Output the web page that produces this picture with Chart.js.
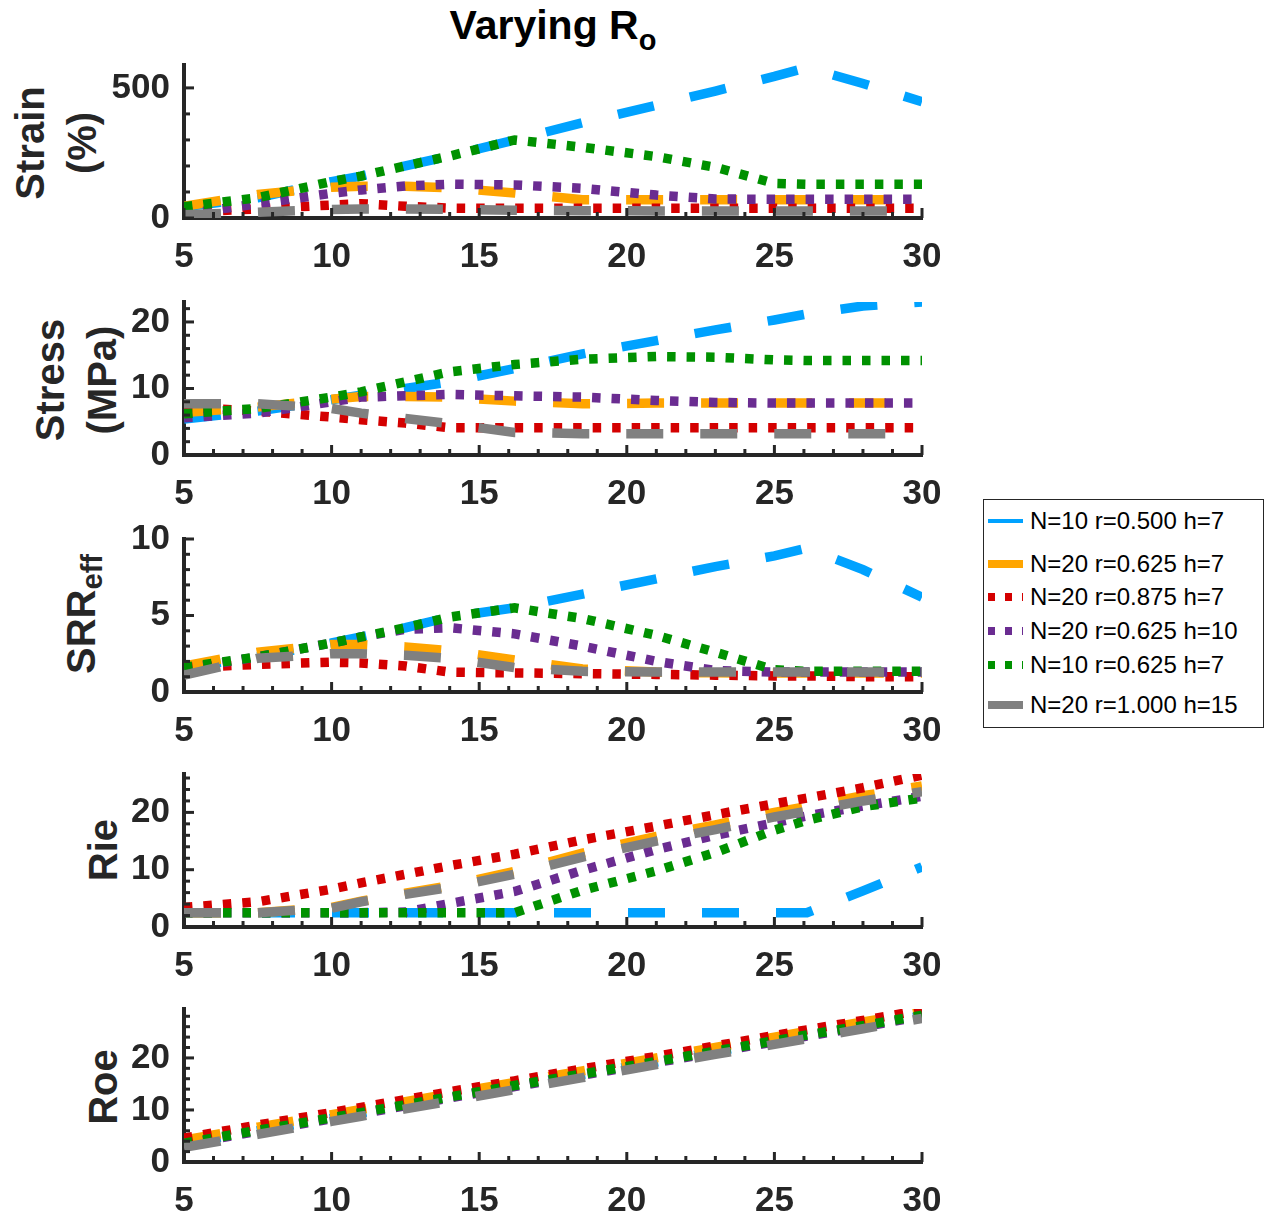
<!DOCTYPE html>
<html>
<head>
<meta charset="utf-8">
<script src="https://cdn.jsdelivr.net/npm/chart.js@4.4.1/dist/chart.umd.min.js"></script>
<style>
  body { margin: 0; background: #fff; width: 1267px; height: 1220px; position: relative; overflow: hidden;
         font-family: "Liberation Sans", Arial, sans-serif; color: #262626; }
  canvas { position: absolute; left: 0; }
  .ylab { position: absolute; transform: translate(-50%, -50%) rotate(-90deg); font-weight: bold;
          font-size: 40px; line-height: 52px; text-align: center; white-space: nowrap; }
  .ylab sub { font-size: 29px; vertical-align: -7px; }
  #title { position: absolute; left: 553px; top: 3px; transform: translateX(-50%); font-weight: bold;
           font-size: 41px; line-height: 44px; white-space: nowrap; color: #000; }
  #title sub { font-size: 29px; vertical-align: -11px; }
  #legend { position: absolute; left: 983px; top: 499px; width: 281px; height: 229px;
            border: 1px solid #262626; box-sizing: border-box; background: #fff; }
  .lrow { position: absolute; left: 0; height: 30px; }
  .lrow svg { position: absolute; left: 4px; top: 0; }
  .lrow span { position: absolute; left: 46px; top: 0; line-height: 30px; font-size: 24px; color: #000; white-space: nowrap; }
</style>
</head>
<body>
<div id="title">Varying R<sub>o</sub></div>
<div class="ylab" style="left:56px; top:143px;">Strain<br>(%)</div>
<div class="ylab" style="left:76px; top:380px;">Stress<br>(MPa)</div>
<div class="ylab" style="left:86px; top:614px;">SRR<sub>eff</sub></div>
<div class="ylab" style="left:103px; top:850px;">Rie</div>
<div class="ylab" style="left:103px; top:1087px;">Roe</div>
<div id="legend"></div>

<script>
// outer radius Ro (x axis)
const ro = [5, 7.5, 10, 11, 12.5, 14, 16.2, 18.5, 21, 23, 25, 26.1, 28, 30];

const seriesNames = ['N=10 r=0.500 h=7', 'N=20 r=0.625 h=7', 'N=20 r=0.875 h=7',
                     'N=20 r=0.625 h=10', 'N=10 r=0.625 h=7', 'N=20 r=1.000 h=15'];
const seriesColors = ['#00A2FF', '#FFA500', '#D40000', '#6A2C91', '#009100', '#808080'];

// one row per series, same order as seriesNames
const strain = [
  [43, 78, 140, 161, 200, 238, 300, 366, 433, 488, 544, 578, 517, 447],
  [45, 90, 118, 122, 122, 116, 96, 70, 70, 70, 70, 70, 70, 70],
  [22, 35, 50, 55, 45, 38, 37, 37, 37, 37, 37, 37, 37, 37],
  [15, 55, 95, 108, 123, 130, 127, 114, 88, 73, 72, 72, 72, 72],
  [43, 78, 140, 161, 200, 238, 300, 272, 236, 195, 133, 130, 130, 130],
  [12, 22, 33, 35, 35, 33, 30, 28, 27, 27, 27, 27, 27, 27]
];
const stress = [
  [5.4, 6.6, 8.3, 9.0, 10.0, 11.0, 13.0, 15.2, 17.2, 18.8, 20.3, 21.2, 22.4, 23.0],
  [6.4, 7.2, 8.4, 8.8, 8.8, 8.7, 8.1, 7.7, 7.8, 7.8, 7.8, 7.8, 7.8, 7.8],
  [7.2, 6.6, 5.7, 5.3, 4.8, 4.1, 4.1, 4.1, 4.1, 4.1, 4.1, 4.1, 4.1, 4.1],
  [5.6, 6.3, 8.0, 8.7, 8.9, 9.1, 8.9, 8.7, 8.2, 7.9, 7.8, 7.8, 7.8, 7.8],
  [6.2, 7.0, 8.7, 9.5, 11.0, 12.5, 13.6, 14.4, 14.8, 14.7, 14.3, 14.2, 14.2, 14.2],
  [7.7, 7.7, 7.0, 6.3, 5.5, 4.7, 3.4, 3.2, 3.2, 3.2, 3.2, 3.2, 3.2, 3.2]
];
const srrEff = [
  [1.6, 2.3, 3.2, 3.6, 4.2, 4.9, 5.5, 6.4, 7.4, 8.2, 8.9, 9.4, 8.0, 6.2],
  [1.7, 2.6, 3.1, 3.1, 2.95, 2.7, 2.1, 1.5, 1.3, 1.25, 1.25, 1.25, 1.25, 1.25],
  [1.6, 1.8, 1.95, 1.9, 1.7, 1.3, 1.25, 1.2, 1.15, 1.1, 1.05, 1.05, 1.0, 1.0],
  [1.5, 2.3, 3.2, 3.6, 4.1, 4.2, 3.8, 3.0, 2.0, 1.4, 1.3, 1.3, 1.3, 1.3],
  [1.6, 2.3, 3.2, 3.6, 4.2, 4.9, 5.5, 4.8, 3.7, 2.6, 1.45, 1.35, 1.35, 1.35],
  [1.1, 2.2, 2.5, 2.5, 2.4, 2.2, 1.6, 1.35, 1.3, 1.3, 1.3, 1.3, 1.3, 1.3]
];
const rie = [
  [2.5, 2.5, 2.5, 2.5, 2.5, 2.5, 2.5, 2.5, 2.5, 2.5, 2.5, 2.5, 6.3, 10.5],
  [2.5, 2.5, 3.4, 4.5, 5.9, 7.2, 9.7, 12.9, 15.8, 17.8, 20.0, 21.0, 22.9, 24.6],
  [3.4, 4.4, 6.6, 7.7, 9.2, 10.7, 12.7, 15.2, 17.6, 19.6, 21.5, 22.5, 24.3, 26.5],
  [2.5, 2.5, 2.5, 2.5, 2.6, 4.1, 6.2, 9.9, 13.5, 16.0, 18.2, 19.4, 21.1, 22.8],
  [2.5, 2.5, 2.5, 2.5, 2.5, 2.5, 2.5, 6.4, 9.8, 13.0, 16.9, 18.6, 21.0, 22.5],
  [2.5, 2.5, 3.3, 4.4, 5.7, 6.9, 9.2, 12.2, 15.0, 17.0, 19.2, 20.2, 22.0, 23.6]
];
const roe = [
  [3.5, 6.0, 8.4, 9.4, 10.9, 12.4, 14.6, 16.8, 19.2, 21.2, 23.2, 24.3, 26.1, 28.1],
  [4.2, 6.7, 9.1, 10.1, 11.6, 13.1, 15.3, 17.5, 20.0, 22.0, 24.0, 25.1, 26.9, 28.9],
  [4.6, 7.1, 9.5, 10.5, 12.0, 13.5, 15.6, 17.9, 20.3, 22.3, 24.3, 25.4, 27.2, 29.2],
  [3.4, 5.9, 8.3, 9.3, 10.8, 12.3, 14.5, 16.7, 19.1, 21.1, 23.1, 24.2, 26.0, 28.0],
  [3.6, 6.1, 8.5, 9.5, 11.0, 12.5, 14.7, 16.9, 19.3, 21.3, 23.3, 24.4, 26.2, 28.2],
  [2.8, 5.3, 7.8, 8.8, 10.2, 11.7, 13.9, 16.2, 18.7, 20.7, 22.6, 23.7, 25.6, 27.6]
];

const panels = [strain, stress, srrEff, rie, roe];
const yMax = [588, 23, 10, 26.7, 29.4];
const yMajor = [500, 10, 5, 10, 10];
const yMinor = [100, 2, 1, 2, 2];

const axisColor = '#262626';
const tickFont = { family: '"Liberation Sans", Arial, sans-serif', size: 35, weight: 'bold' };
const dashed = [37, 37];
const dotted = [8.5, 11];
const lineDash = [dashed, dashed, dotted, dotted, dotted, dashed];
const panelTop = [65, 302, 539, 774, 1009];
const padTop = 36;

// MATLAB style ticks pointing into the axes
const inTicks = {
  id: 'inTicks',
  afterDraw(chart, args, opts) {
    const { ctx, chartArea: a, scales: { x, y } } = chart;
    ctx.save();
    ctx.strokeStyle = axisColor;
    ctx.lineWidth = 3;
    for (let v = 5; v <= 30; v++) {
      const px = x.getPixelForValue(v);
      const len = v % 5 === 0 ? 10 : 6;
      ctx.beginPath();
      ctx.moveTo(px, a.bottom);
      ctx.lineTo(px, a.bottom - len);
      ctx.stroke();
    }
    const n = Math.floor(y.max / opts.minor + 1e-9);
    for (let i = 0; i <= n; i++) {
      const v = i * opts.minor;
      const r = v / opts.major;
      const len = Math.abs(r - Math.round(r)) < 1e-6 ? 10 : 6;
      const py = y.getPixelForValue(v);
      ctx.beginPath();
      ctx.moveTo(a.left, py);
      ctx.lineTo(a.left + len, py);
      ctx.stroke();
    }
    ctx.restore();
  }
};

panels.forEach((rows, k) => {
  const cv = document.createElement('canvas');
  cv.width = 960;
  cv.height = padTop + 153 + 58;
  cv.style.top = (panelTop[k] - padTop) + 'px';
  document.body.appendChild(cv);

  const datasets = rows.map((vals, i) => ({
    label: seriesNames[i],
    data: ro.map((x, j) => ({ x: x, y: vals[j] })),
    borderColor: seriesColors[i],
    borderWidth: 9.5,
    borderDash: lineDash[i],
    borderCapStyle: 'butt',
    borderJoinStyle: 'miter',
    pointRadius: 0,
    tension: 0,
    fill: false,
    order: 6 - i
  }));

  new Chart(cv.getContext('2d'), {
    type: 'line',
    data: { datasets },
    plugins: [inTicks],
    options: {
      responsive: false,
      animation: false,
      devicePixelRatio: 1,
      layout: { padding: { top: padTop, right: 38, left: 0, bottom: 0 } },
      plugins: {
        legend: { display: false },
        tooltip: { enabled: false },
        inTicks: { major: yMajor[k], minor: yMinor[k] }
      },
      scales: {
        x: {
          type: 'linear', min: 5, max: 30,
          grid: { display: false, drawTicks: false },
          border: { display: true, color: axisColor, width: 4 },
          ticks: { stepSize: 5, autoSkip: false, maxRotation: 0, font: tickFont, color: axisColor, padding: 18 },
          afterFit: s => { s.height = 58; }
        },
        y: {
          min: 0, max: yMax[k],
          grid: { display: false, drawTicks: false },
          border: { display: true, color: axisColor, width: 4 },
          ticks: { font: tickFont, color: axisColor, padding: 14, autoSkip: false },
          afterBuildTicks: s => {
            const t = [];
            for (let v = 0; v <= yMax[k] + 1e-9; v += yMajor[k]) t.push({ value: v });
            s.ticks = t;
          },
          afterFit: s => { s.width = 184; }
        }
      }
    }
  });
});

// legend
const legendY = [21, 64, 97, 131, 165, 205];
const legend = document.getElementById('legend');
seriesNames.forEach((name, i) => {
  const row = document.createElement('div');
  row.className = 'lrow';
  row.style.top = (legendY[i] - 15) + 'px';
  const w = i === 0 ? 4 : 8;
  const dash = lineDash[i] === dotted ? 'stroke-dasharray="7 10"' : '';
  row.innerHTML =
    '<svg width="40" height="30"><line x1="0" y1="15" x2="35" y2="15" stroke="' + seriesColors[i] +
    '" stroke-width="' + w + '" ' + dash + '/></svg><span>' + name + '</span>';
  legend.appendChild(row);
});
</script>
</body>
</html>
